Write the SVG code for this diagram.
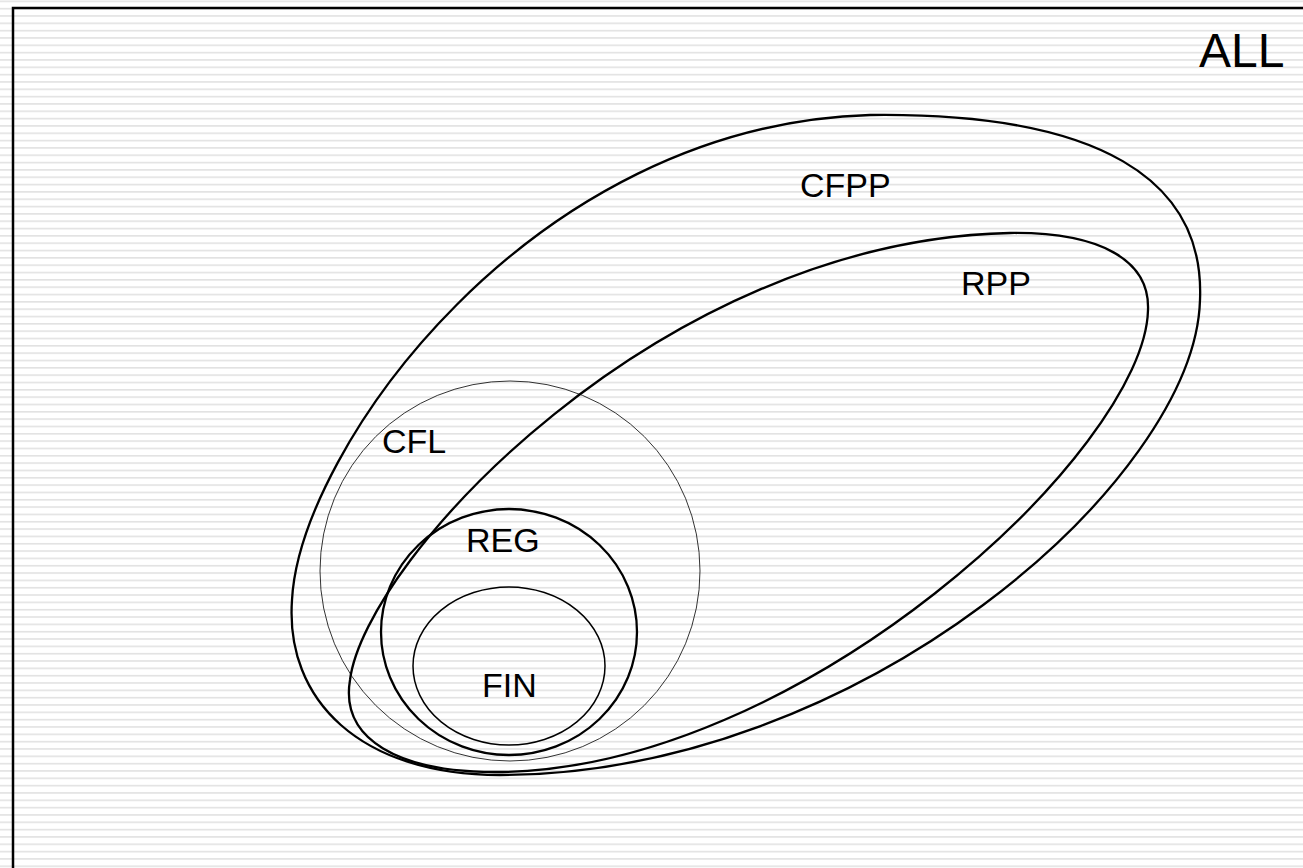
<svg xmlns="http://www.w3.org/2000/svg" width="1303" height="868" viewBox="0 0 1303 868">
  <defs>
    <pattern id="stripes" x="0" y="0.5" width="20" height="7.33" patternUnits="userSpaceOnUse">
      <rect x="0" y="0" width="20" height="1.6" fill="#e2e2e2"/>
    </pattern>
  </defs>
  <style>
    .lbl { font-family: "Liberation Sans", Arial, sans-serif; font-size: 34px; fill: #000; }
    .set { fill: none; stroke: #000; }
    .thick { stroke-width: 2.3; }
  </style>
  <rect x="0" y="0" width="1303" height="868" fill="#ffffff"/>
  <rect x="0" y="0" width="1303" height="868" fill="url(#stripes)"/>
  <rect id="frame" x="13" y="8" width="1320" height="900" fill="none" stroke="#000" stroke-width="2.5"/>

  <g id="ALL"><text class="lbl" x="1199" y="67" style="font-size:48px">ALL</text></g>

  <g id="CFPP">
    <path class="set thick" d="M 500 775 C 360 775, 285 700, 292 600 C 300 450, 530 125, 870 115 C 1100 112, 1205 180, 1200 300 C 1195 480, 860 775, 500 775 Z"/>
    <text class="lbl" x="800" y="197">CFPP</text>
  </g>

  <g id="RPP">
    <path class="set thick" d="M 495 772 C 400 772, 340 740, 350 680 C 365 560, 660 240, 1010 233 C 1100 232, 1150 260, 1148 310 C 1145 450, 800 772, 495 772 Z"/>
    <text class="lbl" x="961" y="295">RPP</text>
  </g>

  <g id="CFL">
    <circle class="set" cx="510" cy="571" r="190" stroke-width="0.8"/>
    <text class="lbl" x="382" y="453">CFL</text>
  </g>

  <g id="REG">
    <ellipse class="set thick" cx="509" cy="632" rx="128" ry="123"/>
    <text class="lbl" x="466" y="552">REG</text>
  </g>

  <g id="FIN">
    <ellipse class="set" cx="509" cy="666" rx="96" ry="79" stroke-width="1.5"/>
    <text class="lbl" x="482" y="697">FIN</text>
  </g>

  <g id="connectors"></g>
</svg>
